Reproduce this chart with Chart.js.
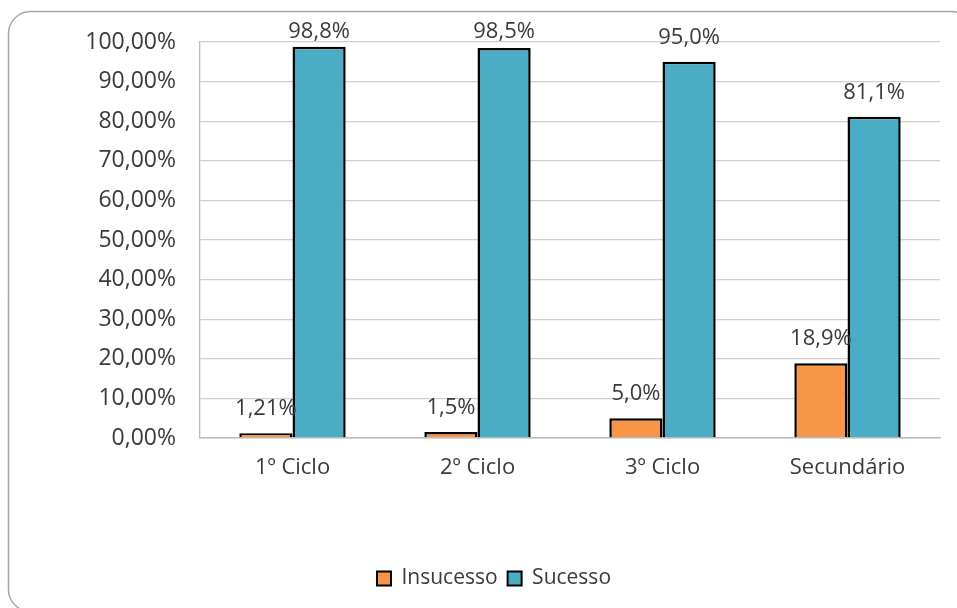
<!DOCTYPE html>
<html>
<head>
<meta charset="utf-8">
<script src="https://cdn.jsdelivr.net/npm/chart.js@4.4.1/dist/chart.umd.min.js"></script>
<style>
  html, body { margin: 0; padding: 0; background: #fff; }
  #wrap { position: relative; width: 957px; height: 608px; }
</style>
</head>
<body>
<div id="wrap"><canvas id="c" width="957" height="608"></canvas></div>
<script>
const categories = ['1º Ciclo', '2º Ciclo', '3º Ciclo', 'Secundário'];
const insucesso = [1.21, 1.5, 5.0, 18.9];
const sucesso = [98.8, 98.5, 95.0, 81.1];
const insucessoLabels = ['1,21%', '1,5%', '5,0%', '18,9%'];
const sucessoLabels = ['98,8%', '98,5%', '95,0%', '81,1%'];
const yTicks = [0, 10, 20, 30, 40, 50, 60, 70, 80, 90, 100];

const FONT = '"Open Sans", "DejaVu Sans", sans-serif';
const TEXT = '#3a3a3a';

const frame = {
  id: 'frame',
  beforeDraw(chart) {
    const ctx = chart.ctx;
    ctx.save();
    ctx.fillStyle = '#fff';
    ctx.fillRect(0, 0, chart.width, chart.height);
    ctx.strokeStyle = '#a6a6a6';
    ctx.lineWidth = 1.5;
    ctx.beginPath();
    ctx.roundRect(8.5, 11.5, 965, 600, 22);
    ctx.stroke();
    ctx.restore();
  }
};

const legendShift = {
  id: 'legendShift',
  afterLayout(chart) {
    if (chart.legend) {
      chart.legend.left += 24;
      chart.legend.right += 24;
    }
  }
};

const valueLabels = {
  id: 'valueLabels',
  afterDatasetsDraw(chart) {
    const ctx = chart.ctx;
    const top = chart.chartArea.top;
    ctx.save();
    ctx.font = '22px ' + FONT;
    ctx.fillStyle = TEXT;
    ctx.textAlign = 'center';
    ctx.textBaseline = 'bottom';
    chart.data.datasets.forEach((ds, di) => {
      const meta = chart.getDatasetMeta(di);
      meta.data.forEach((bar, i) => {
        const y = Math.max(bar.y - 13, top + 1);
        ctx.fillText(ds.valueLabels[i], bar.x, y);
      });
    });
    ctx.restore();
  }
};

new Chart(document.getElementById('c'), {
  type: 'bar',
  data: {
    labels: categories,
    datasets: [
      {
        label: 'Insucesso',
        data: insucesso,
        valueLabels: insucessoLabels,
        backgroundColor: '#F79646',
        borderColor: '#000',
        borderWidth: 2.5,
        borderSkipped: 'bottom'
      },
      {
        label: 'Sucesso',
        data: sucesso,
        valueLabels: sucessoLabels,
        backgroundColor: '#4BACC6',
        borderColor: '#000',
        borderWidth: 2.5,
        borderSkipped: 'bottom'
      }
    ]
  },
  options: {
    responsive: false,
    animation: false,
    devicePixelRatio: 1,
    categoryPercentage: 0.575,
    barPercentage: 1.0,
    layout: { padding: { top: 42, right: 17, left: 0, bottom: 9 } },
    scales: {
      y: {
        min: 0,
        max: 100,
        afterFit(s) { s.width = 200; },
        afterBuildTicks(s) { s.ticks = yTicks.map(v => ({ value: v })); },
        ticks: {
          padding: 24,
          color: TEXT,
          font: { family: FONT, size: 23 },
          callback: v => v.toFixed(2).replace('.', ',') + '%'
        },
        grid: { color: '#d0d0d0', lineWidth: 1.3, drawTicks: false },
        border: { color: '#bdbdbd', width: 1.3 }
      },
      x: {
        afterFit(s) { s.height = 120; },
        ticks: {
          padding: 17,
          color: TEXT,
          font: { family: FONT, size: 22 }
        },
        grid: { display: false, drawTicks: false },
        border: { color: '#bdbdbd', width: 1.5 }
      }
    },
    plugins: {
      legend: {
        position: 'bottom',
        labels: {
          color: TEXT,
          font: { family: FONT, size: 21 },
          boxWidth: 14,
          boxHeight: 14,
          padding: 10,
          generateLabels(chart) {
            return chart.data.datasets.map((ds, i) => ({
              text: ds.label,
              fillStyle: ds.backgroundColor,
              strokeStyle: '#000',
              lineWidth: 2,
              fontColor: TEXT,
              datasetIndex: i
            }));
          }
        }
      },
      tooltip: { enabled: false }
    }
  },
  plugins: [frame, legendShift, valueLabels]
});
</script>
</body>
</html>
